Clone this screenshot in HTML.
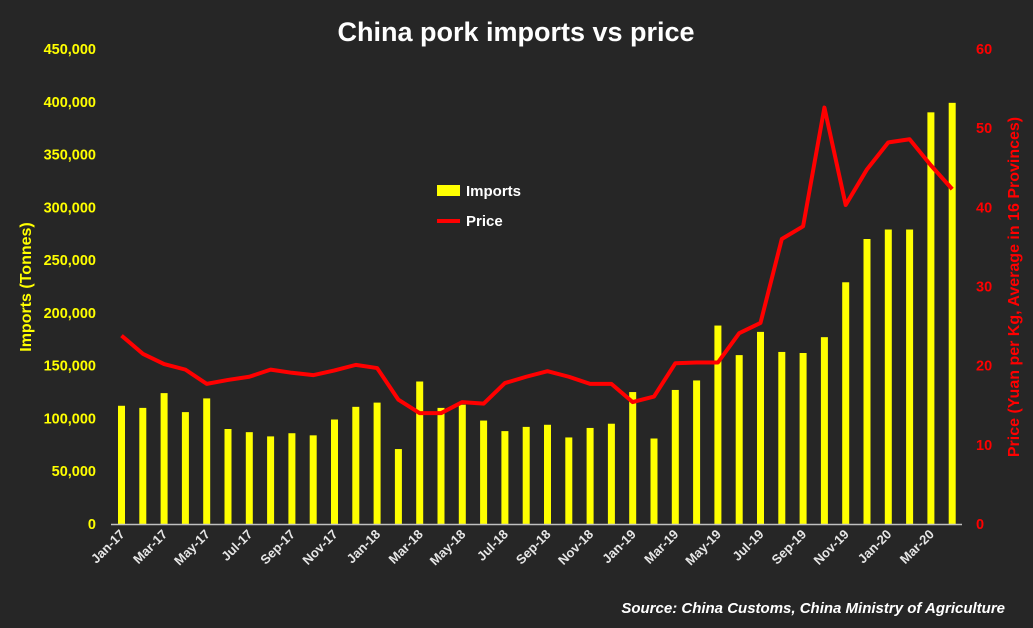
<!DOCTYPE html>
<html><head><style>
html,body{margin:0;padding:0;background:#262626;}
svg{display:block;font-family:"Liberation Sans",sans-serif;font-weight:bold;}
</style></head><body>
<svg id="c" width="1033" height="628" viewBox="0 0 1033 628" xmlns="http://www.w3.org/2000/svg">
<rect width="1033" height="628" fill="#262626"/>
<text x="516" y="41" fill="#fff" font-size="27" text-anchor="middle">China pork imports vs price</text>
<g id="g"></g>
<line x1="111" y1="524.5" x2="962" y2="524.5" stroke="#bfbfbf" stroke-width="1.5"/>
<text transform="translate(31,287) rotate(-90)" fill="#ffff00" font-size="16" text-anchor="middle">Imports (Tonnes)</text>
<text transform="translate(1019,287) rotate(-90)" fill="#ff0000" font-size="16" text-anchor="middle">Price (Yuan per Kg, Average in 16 Provinces)</text>
<rect x="437" y="185" width="23" height="11" fill="#ffff00"/>
<text x="466" y="196" fill="#fff" font-size="15">Imports</text>
<line x1="437" y1="221" x2="460" y2="221" stroke="#ff0000" stroke-width="4"/>
<text x="466" y="226" fill="#fff" font-size="15">Price</text>
<text x="1005" y="613" fill="#fff" font-size="15" font-style="italic" text-anchor="end">Source: China Customs, China Ministry of Agriculture</text>
</svg>
<script>
var imp=[112,110,124,106,119,90,87,83,86,84,99,111,115,71,135,110,113,98,88,92,94,82,91,95,125,81,127,136,188,160,182,163,162,177,229,270,279,279,390,399];
var pr=[23.8,21.5,20.2,19.5,17.7,18.2,18.6,19.5,19.1,18.8,19.4,20.1,19.7,15.7,14,14,15.4,15.2,17.8,18.6,19.3,18.6,17.7,17.7,15.4,16.1,20.3,20.4,20.4,24.1,25.4,36,37.6,52.6,40.3,44.8,48.2,48.6,45.3,42.3];
var mon=["Jan","Mar","May","Jul","Sep","Nov"];
var s="";
function X(i){return 121.5+i*21.3;}
for(var i=0;i<40;i++){var h=imp[i]*1000*475/450000;s+='<rect x="'+(X(i)-3.5)+'" y="'+(524-h)+'" width="7" height="'+h+'" fill="#ffff00"/>';}
var p="";for(var i=0;i<40;i++){p+=(i?"L":"M")+X(i)+","+(524-pr[i]*475/60);}
s+='<path d="'+p+'" fill="none" stroke="#ff0000" stroke-width="4" stroke-linejoin="round"/>';
for(var k=0;k<=9;k++){var v=k*50000;var y=524-k*475/9;s+='<text x="96" y="'+(y+5)+'" fill="#ffff00" font-size="14.5" text-anchor="end">'+v.toLocaleString("en-US")+'</text>';}
for(var k=0;k<=6;k++){var y=524-k*475/6;s+='<text x="976" y="'+(y+5)+'" fill="#ff0000" font-size="14.5">'+(k*10)+'</text>';}
for(var i=0;i<40;i+=2){var yr=17+Math.floor(i/12);var lab=mon[(i%12)/2]+"-"+yr;s+='<text transform="translate('+(X(i)+4)+',535) rotate(-45)" fill="#e6e6e6" font-size="13" text-anchor="end">'+lab+'</text>';}
document.getElementById("g").innerHTML=s;
</script>
</body></html>
